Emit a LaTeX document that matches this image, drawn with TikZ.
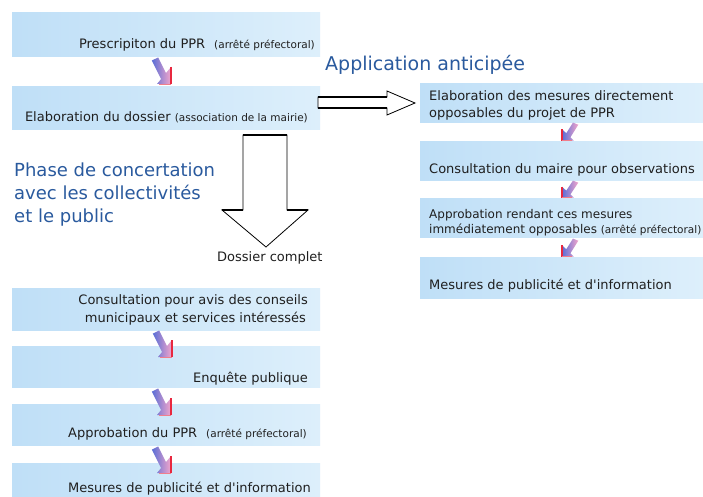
\documentclass[tikz,border=0pt]{standalone}
\usepackage{fontspec}
\setmainfont{DejaVu Sans}
\usetikzlibrary{calc}
\definecolor{boxL}{HTML}{BFDFF7}
\definecolor{boxR}{HTML}{DDEFFB}
\definecolor{titleblue}{HTML}{2A5A9E}
\definecolor{arrblue}{HTML}{5A6ED6}
\definecolor{arrpink}{HTML}{F4A6CB}
\definecolor{arrred}{HTML}{E8283F}
\newcommand{\mainsz}{\fontsize{13}{16}\selectfont}
\newcommand{\midsz}{\fontsize{12}{14}\selectfont}
\newcommand{\smallsz}{\fontsize{10.5}{12}\selectfont}
\begin{document}
\begin{tikzpicture}[x=1pt,y=-1pt,
  box/.style={shade, left color=boxL, right color=boxR, draw=none, inner sep=0pt},
  lbl/.style={inner sep=0pt, text=black!88},
  hollow/.style={draw=black, line width=0.8pt, fill=white, line join=miter},
  thickedge/.style={draw=black, line width=1.8pt},
  smallarrow/.pic={
    \shade[left color=arrblue, right color=arrpink]
      (0.87,2.56) -- (7.13,-0.56) -- (14.96,15.1) -- (20,9) -- (20,26) -- (6,26) -- (10.1,21.0) -- cycle;
    \draw[arrred, line width=1.6pt] (20,9) -- (20,26);
    \draw[arrred!60, line width=0.8pt] (20,26) -- (8,26);
  }]
\useasboundingbox (0,0) rectangle (703,497);
\fill[white] (0,0) rectangle (703,497);

% left column boxes
\node[box, minimum width=308pt, minimum height=44pt] (L1) at (166,35) {};
\node[box, minimum width=308pt, minimum height=43pt] (L2) at (166,108.5) {};
\node[box, minimum width=308pt, minimum height=42pt] (L3) at (166,309) {};
\node[box, minimum width=308pt, minimum height=41pt] (L4) at (166,366.5) {};
\node[box, minimum width=308pt, minimum height=41pt] (L5) at (166,424.5) {};
\node[box, minimum width=308pt, minimum height=34pt] (L6) at (166,480) {};

% right column boxes
\node[box, minimum width=283pt, minimum height=39pt] (R1) at (561.5,103.5) {};
\node[box, minimum width=283pt, minimum height=38pt] (R2) at (561.5,161) {};
\node[box, minimum width=283pt, minimum height=39pt] (R3) at (561.5,217.5) {};
\node[box, minimum width=283pt, minimum height=41pt] (R4) at (561.5,277.5) {};

% texts left
\node[lbl, anchor=base east] (tL1) at (315,49) {\mainsz Prescripiton du PPR\hspace{9pt}{\smallsz (arrêté préfectoral)}};
\node[lbl, anchor=base east] (tL2) at (308,122) {\mainsz Elaboration du dossier {\smallsz (association de la mairie)}};
\node[lbl, anchor=base east] (tL3a) at (308,304) {\mainsz Consultation pour avis des conseils};
\node[lbl, anchor=base east] (tL3b) at (306,322) {\mainsz municipaux et services intéressés};
\node[lbl, anchor=base east] (tL4) at (308,382) {\mainsz Enquête publique};
\node[lbl, anchor=base east] (tL5) at (307,437) {\mainsz Approbation du PPR\hspace{9pt}{\smallsz (arrêté préfectoral)}};
\node[lbl, anchor=base east] (tL6) at (311,492) {\mainsz Mesures de publicité et d\textquotesingle information};

% texts right
\node[lbl, anchor=base west] (tR1a) at (429,101) {\mainsz Elaboration des mesures directement};
\node[lbl, anchor=base west] (tR1b) at (429,118) {\mainsz opposables du projet de PPR};
\node[lbl, anchor=base west] (tR2) at (429,174) {\mainsz Consultation du maire pour observations};
\node[lbl, anchor=base west] (tR3a) at (429,218) {\midsz Approbation rendant ces mesures};
\node[lbl, anchor=base west] (tR3b) at (429,233) {\midsz immédiatement opposables {\smallsz (arrêté préfectoral)}};
\node[lbl, anchor=base west] (tR4) at (429,289) {\mainsz Mesures de publicité et d\textquotesingle information};

% titles
\node[inner sep=0pt, anchor=base west, text=titleblue] (app) at (325,71) {\fontsize{19}{23}\selectfont Application anticipée};
\node[inner sep=0pt, anchor=north west, align=left, text=titleblue, font=\fontsize{18}{23}\selectfont] (phase) at (14,163) {Phase de concertation\\avec les collectivités\\et le public};
\node[lbl, anchor=base west] (dc) at (217,261) {\mainsz Dossier complet};

% big hollow down arrow
\draw[hollow] (243,135) -- (287,135) -- (287,210) -- (308,210) -- (266,247) -- (222,210) -- (243,210) -- cycle;
\draw[thickedge] (243,135) -- (287,135);
\draw[thickedge] (222,210) -- (243,210);
\draw[thickedge] (287,210) -- (308,210);

% big hollow right arrow
\draw[hollow] (318,97) -- (387,97) -- (387,91) -- (415,103) -- (387,115) -- (387,108) -- (318,108) -- cycle;
\draw[thickedge] (318,97) -- (387,97);
\draw[thickedge] (318,108) -- (387,108);

% small arrows left column
\pic at (151,58) {smallarrow};
\pic at (152,331) {smallarrow};
\pic at (151,389) {smallarrow};
\pic at (151,447) {smallarrow};

% small arrows right column (mirrored)
\pic[xscale=-0.85, yscale=0.68] at (579,123) {smallarrow};
\pic[xscale=-0.85, yscale=0.64] at (579,181) {smallarrow};
\pic[xscale=-0.85, yscale=0.68] at (579,239) {smallarrow};
\end{tikzpicture}
\end{document}
